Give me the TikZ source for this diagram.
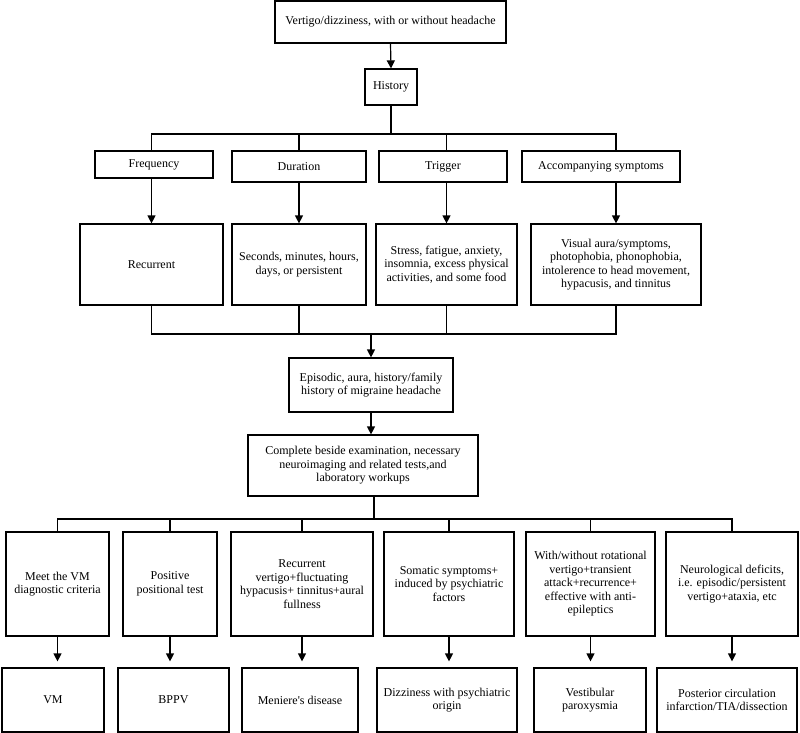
\documentclass[tikz,border=0pt]{standalone}
\usepackage{fontspec}
\setmainfont{Liberation Serif}
\usetikzlibrary{arrows.meta}

\tikzset{
	box/.style = {draw, line width = 1.2pt, inner sep = 1pt, align = center,
		font = \fontsize{12}{13.5}\selectfont},
	link/.style = {line width = 1.2pt, line cap = rect},
	arr/.style = {line width = 1.2pt, -{Triangle[length = 8pt, width = 8pt]}}
}

\begin{document}
\begin{tikzpicture}[x = 1pt, y = -1pt]
\useasboundingbox (0,0) rectangle (800,733);

% top of the chart
\node [box, minimum width = 231pt, minimum height = 42pt] (top) at (390.5,22)
	{Vertigo/dizziness, with or without headache};
\node [box, minimum width = 52pt, minimum height = 36pt] (hist) at (391,87) {History};

% what to ask
\node [box, minimum width = 118pt, minimum height = 27pt] (freq) at (154,164.5) {Frequency};
\node [box, minimum width = 134pt, minimum height = 31pt] (dur) at (299,166.5) {Duration};
\node [box, minimum width = 128pt, minimum height = 31pt] (trig) at (443,166.5) {Trigger};
\node [box, minimum width = 158pt, minimum height = 31pt] (acc) at (601,166.5) {Accompanying symptoms};

\node [box, minimum width = 143pt, minimum height = 81pt] (rec) at (151.5,264.5) {Recurrent};
\node [box, minimum width = 134pt, minimum height = 81pt] (secs) at (299,264.5)
	{Seconds, minutes, hours,\\ days, or persistent};
\node [box, minimum width = 141pt, minimum height = 81pt] (stress) at (446.5,264.5)
	{Stress, fatigue, anxiety,\\ insomnia, excess physical\\ activities, and some food};
\node [box, minimum width = 170pt, minimum height = 81pt] (vis) at (616,264.5)
	{Visual aura/symptoms,\\ photophobia, phonophobia,\\ intolerence to head movement,\\ hypacusis, and tinnitus};

\node [box, minimum width = 164pt, minimum height = 54pt] (epi) at (371,385)
	{Episodic, aura, history/family\\ history of migraine headache};
\node [box, minimum width = 230pt, minimum height = 61pt] (exam) at (363,465.5)
	{Complete beside examination, necessary\\ neuroimaging and related tests,and\\ laboratory workups};

% findings
\node [box, minimum width = 103pt, minimum height = 104pt] (meet) at (57.5,584)
	{Meet the VM\\ diagnostic criteria};
\node [box, minimum width = 94pt, minimum height = 104pt] (pos) at (170,584)
	{Positive\\ positional test};
\node [box, minimum width = 142pt, minimum height = 104pt] (fluct) at (302,584)
	{Recurrent\\ vertigo+fluctuating\\ hypacusis+ tinnitus+aural\\ fullness};
\node [box, minimum width = 130pt, minimum height = 104pt] (soma) at (449,584)
	{Somatic symptoms+\\ induced by psychiatric\\ factors};
\node [box, minimum width = 129pt, minimum height = 104pt] (rota) at (590.5,584)
	{With/without rotational\\ vertigo+transient\\ attack+recurrence+\\ effective with anti-\\ epileptics};
\node [box, minimum width = 132pt, minimum height = 104pt] (neuro) at (732,584)
	{Neurological deficits,\\ i.e. episodic/persistent\\ vertigo+ataxia, etc};

% diagnoses
\node [box, minimum width = 102pt, minimum height = 64pt] (vm) at (53,700) {VM};
\node [box, minimum width = 111pt, minimum height = 64pt] (bppv) at (173.5,700) {BPPV};
\node [box, minimum width = 116pt, minimum height = 64pt] (men) at (300,700)
	{Meniere\textquotesingle s disease};
\node [box, minimum width = 140pt, minimum height = 64pt] (psy) at (447,700)
	{Dizziness with psychiatric\\ origin};
\node [box, minimum width = 112pt, minimum height = 64pt] (vp) at (590,700)
	{Vestibular\\ paroxysmia};
\node [box, minimum width = 140pt, minimum height = 64pt] (pci) at (727,700)
	{Posterior circulation\\ infarction/TIA/dissection};

% connectors
\coordinate (bar1) at (391,134);
\coordinate (bar2) at (372,334);
\coordinate (bar3) at (374,519);

\draw [arr] (top.south) -- (hist.north);
\draw [link] (hist.south) -- (bar1);
\draw [link] (rec.north |- bar1) -- (vis.north |- bar1);
\foreach \q/\a in {freq/rec, dur/secs, trig/stress, acc/vis} {
	\draw [link] (\a.north |- bar1) -- (\a.north |- \q.north);
	\draw [arr] (\a.north |- \q.south) -- (\a.north);
	\draw [link] (\a.south) -- (\a.south |- bar2);
}
\draw [link] (rec.south |- bar2) -- (vis.south |- bar2);
\draw [arr] (epi.north |- bar2) -- (epi.north);
\draw [arr] (epi.south) -- (epi.south |- exam.north);
\draw [link] (bar3 |- exam.south) -- (bar3);
\draw [link] (meet.north |- bar3) -- (neuro.north |- bar3);
\foreach \f/\d in {meet/vm, pos/bppv, fluct/men, soma/psy, rota/vp, neuro/pci} {
	\draw [link] (\f.north |- bar3) -- (\f.north);
	\draw [arr, shorten >= 6pt] (\f.south) -- (\f.south |- \d.north);
}
\end{tikzpicture}
\end{document}
